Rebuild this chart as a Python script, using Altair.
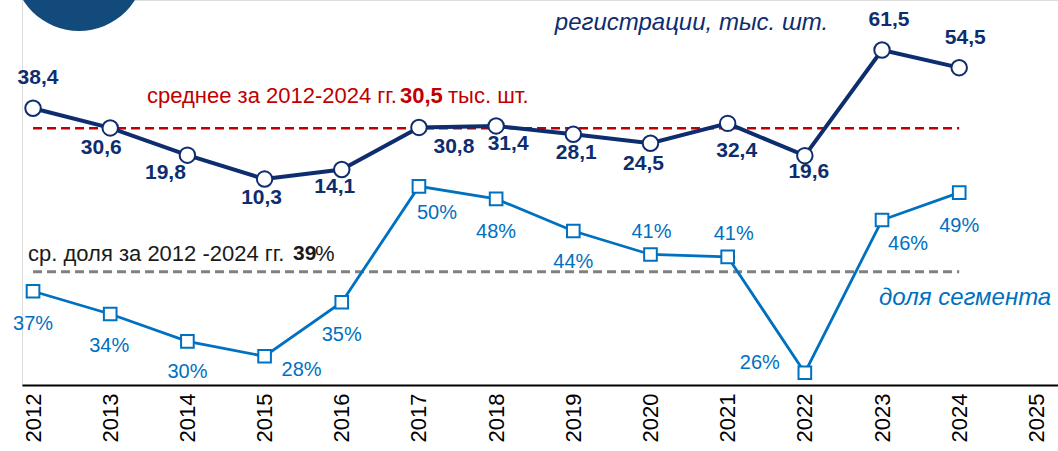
import altair as alt
import pandas as pd

# ---------------- data ----------------
years = [2012, 2013, 2014, 2015, 2016, 2017, 2018, 2019, 2020, 2021, 2022, 2023, 2024]
registrations = [38.4, 30.6, 19.8, 10.3, 14.1, 30.8, 31.4, 28.1, 24.5, 32.4, 19.6, 61.5, 54.5]
share = [36.5, 33.6, 30.1, 28.2, 35.1, 49.9, 48.3, 44.2, 41.2, 40.9, 26.1, 45.6, 49.1]
reg_labels = ["38,4", "30,6", "19,8", "10,3", "14,1", "30,8", "31,4", "28,1", "24,5", "32,4", "19,6", "61,5", "54,5"]
share_labels = ["37%", "34%", "30%", "28%", "35%", "50%", "48%", "44%", "41%", "41%", "26%", "46%", "49%"]
axis_years = [2012, 2013, 2014, 2015, 2016, 2017, 2018, 2019, 2020, 2021, 2022, 2023, 2024, 2025]
avg_reg = 30.5
avg_share = 39
avg_from, avg_to = 2012, 2024

# label placement (pixel offsets from each point)
reg_off = [(5, -30), (-9, 20), (-22, 18), (-3, 19), (-7, 17), (35, 20), (12, 18),
           (3, 19), (-7, 21), (9, 28), (4, 16), (7, -30), (6, -30)]
share_off = [(0, 33), (-1, 32), (0, 31), (37, 14), (0, 33), (18, 27), (0, 33),
             (0, 31), (1, -22), (6, -23), (-45, -10), (26, 24), (0, 33)]

FONT = "Liberation Sans"
NAVY = "#0E2D6E"
BLUE = "#0070C0"
RED = "#C00000"
GRAY = "#808080"

df = pd.DataFrame({"year": years, "reg": registrations, "share": share,
                   "reg_label": reg_labels, "share_label": share_labels})

xscale = alt.Scale(domain=[2011.857, 2025.28], nice=False, zero=False)
reg_scale = alt.Scale(domain=[-71.4, 81.35], nice=False, zero=False)
share_scale = alt.Scale(domain=[24.53, 73.7], nice=False, zero=False)

xaxis = alt.Axis(values=axis_years, format="d", labelAngle=-90, labelFontSize=22,
                 labelFont=FONT, labelColor="#000000", domainColor="#000000",
                 domainWidth=2, ticks=False, grid=False, labelPadding=8, title=None,
                 labelFlush=False, labelOverlap=False)


def X(field="year"):
    return alt.X(f"{field}:Q", scale=xscale, axis=xaxis)


def YR(field):
    return alt.Y(f"{field}:Q", scale=reg_scale, axis=None)


def YS(field):
    return alt.Y(f"{field}:Q", scale=share_scale, axis=None)


base = alt.Chart(df)

# decorative circle top-left
circle = alt.Chart(pd.DataFrame({"a": [0]})).mark_circle(
    size=17400, color="#134A7C", opacity=1
).encode(x=alt.value(57), y=alt.value(-35))

avg_df = pd.DataFrame({"year": [avg_from], "year2": [avg_to],
                       "reg": [avg_reg], "share": [avg_share]})
red_rule = alt.Chart(avg_df).mark_rule(color=RED, strokeWidth=2.5, strokeDash=[9, 5]).encode(
    x=X(), x2="year2:Q", y=YR("reg"))
gray_rule = alt.Chart(avg_df).mark_rule(color=GRAY, strokeWidth=3, strokeDash=[9, 5]).encode(
    x=X(), x2="year2:Q", y=YS("share"))

reg_line = base.mark_line(color=NAVY, strokeWidth=4).encode(x=X(), y=YR("reg"))
reg_pts = base.mark_point(shape="circle", filled=True, fill="white", stroke=NAVY,
                          strokeWidth=2, size=240, opacity=1).encode(x=X(), y=YR("reg"))
share_line = base.mark_line(color=BLUE, strokeWidth=2.8).encode(x=X(), y=YS("share"))
share_pts = base.mark_point(shape="square", filled=True, fill="white", stroke=BLUE,
                            strokeWidth=2, size=160, opacity=1).encode(x=X(), y=YS("share"))

layers = [circle, red_rule, gray_rule, share_line, share_pts, reg_line, reg_pts]

for i, y in enumerate(years):
    dx, dy = reg_off[i]
    layers.append(
        base.transform_filter(alt.datum.year == y).mark_text(
            font=FONT, fontSize=21, fontWeight="bold", color=NAVY, dx=dx, dy=dy,
            align="center", baseline="middle"
        ).encode(x=X(), y=YR("reg"), text="reg_label:N")
    )
    dx, dy = share_off[i]
    layers.append(
        base.transform_filter(alt.datum.year == y).mark_text(
            font=FONT, fontSize=20, color=BLUE, dx=dx, dy=dy,
            align="center", baseline="middle"
        ).encode(x=X(), y=YS("share"), text="share_label:N")
    )

# annotation texts
ann = alt.Chart(avg_df)
red_parts = [("среднее за 2012-2024 гг.", "normal", 114), ("30,5", "bold", 367), ("тыс. шт.", "normal", 415)]
for txt, w, dx in red_parts:
    layers.append(ann.mark_text(text=txt, font=FONT, fontSize=22, fontWeight=w, color=RED,
                                align="left", baseline="middle", dx=dx, dy=-32)
                  .encode(x=X(), y=YR("reg")))
gray_parts = [("ср. доля за 2012 -2024 гг.", "normal", -5), ("39", "bold", 260), ("%", "normal", 282)]
for txt, w, dx in gray_parts:
    layers.append(ann.mark_text(text=txt, font=FONT, fontSize=22 if w == "normal" else 21,
                                fontWeight=w, color="#1A1A1A",
                                align="left", baseline="middle", dx=dx, dy=-18)
                  .encode(x=X(), y=YS("share")))

title_df = pd.DataFrame({"year": [2024], "reg": [61.5], "share": [39]})
layers.append(alt.Chart(title_df).mark_text(
    text="регистрации, тыс. шт.", font=FONT, fontSize=24, fontStyle="italic", color=NAVY,
    align="right", baseline="middle", dx=-131, dy=-27).encode(x=X(), y=YR("reg")))
layers.append(alt.Chart(title_df).mark_text(
    text="доля сегмента", font=FONT, fontSize=24, fontStyle="italic", color=BLUE,
    align="right", baseline="middle", dx=92, dy=26).encode(x=X(), y=YS("share")))

chart = alt.layer(*layers).resolve_scale(y="independent").properties(
    width=1036, height=385,
    autosize=alt.AutoSizeParams(type="none"),
    padding={"left": 22, "top": 0, "right": 0, "bottom": 66},
).configure_view(stroke=None).configure(background="white")

chart.save("out.html", embed_options={"renderer": "svg", "actions": False})
